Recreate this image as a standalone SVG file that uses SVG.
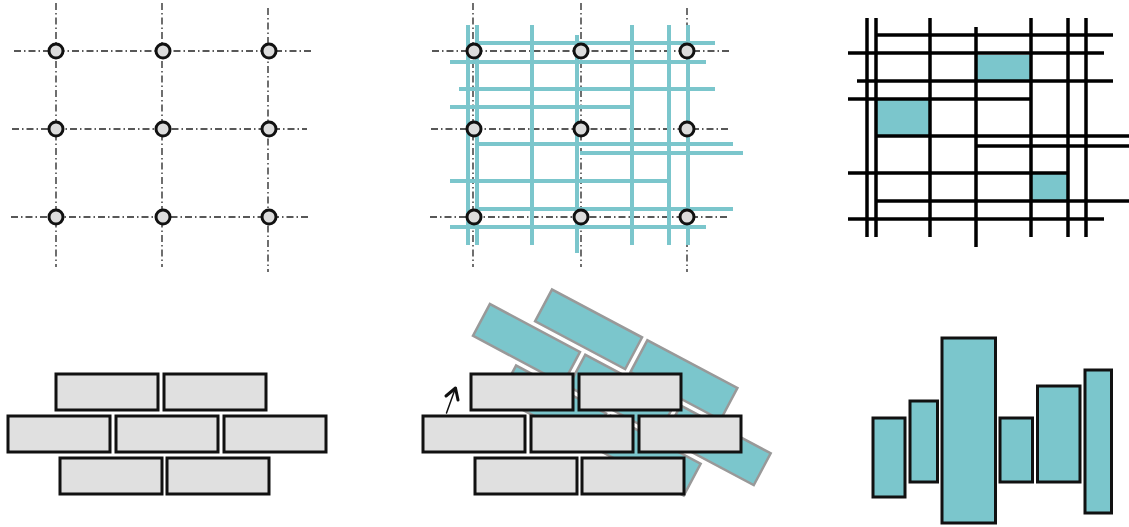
<svg xmlns="http://www.w3.org/2000/svg" width="1129" height="527" viewBox="0 0 1129 527">
<defs>
<style>
.ax{stroke:#222;stroke-width:1.3;stroke-dasharray:7 3 1.5 3;fill:none}
.col{fill:#dcdcdc;stroke:#111;stroke-width:3}
.cy{stroke:#7bc6cc;stroke-width:4;fill:none}
.bk{stroke:#000;stroke-width:3.5;fill:none}
.cf{fill:#7bc6cc;stroke:none}
.brick{fill:#e0e0e0;stroke:#111;stroke-width:3}
.rb{fill:#7bc6cc;stroke:#999;stroke-width:2.5}
.bar{fill:#7bc6cc;stroke:#111;stroke-width:3}
</style>
<g id="wall">
<rect class="brick" x="0" y="0" width="102" height="36"/>
<rect class="brick" x="108" y="0" width="102" height="36"/>
<rect class="brick" x="-48" y="42" width="102" height="36"/>
<rect class="brick" x="60" y="42" width="102" height="36"/>
<rect class="brick" x="168" y="42" width="102" height="36"/>
<rect class="brick" x="4" y="84" width="102" height="36"/>
<rect class="brick" x="111" y="84" width="102" height="36"/>
</g>
<g id="cols">
<circle class="col" cx="0" cy="0" r="7"/>
<circle class="col" cx="107" cy="0" r="7"/>
<circle class="col" cx="213" cy="0" r="7"/>
<circle class="col" cx="0" cy="78" r="7"/>
<circle class="col" cx="107" cy="78" r="7"/>
<circle class="col" cx="213" cy="78" r="7"/>
<circle class="col" cx="0" cy="166" r="7"/>
<circle class="col" cx="107" cy="166" r="7"/>
<circle class="col" cx="213" cy="166" r="7"/>
</g>
</defs>

<g id="grid-columns">
<g class="ax">
<line x1="56" y1="3" x2="56" y2="267"/>
<line x1="162" y1="3" x2="162" y2="267"/>
<line x1="268" y1="8" x2="268" y2="272"/>
<line x1="14" y1="51" x2="312" y2="51"/>
<line x1="12" y1="129" x2="307" y2="129"/>
<line x1="11" y1="217" x2="308" y2="217"/>
</g>
<use href="#cols" x="56" y="51"/>
</g>

<g id="grid-framing">
<g class="ax">
<line x1="473" y1="3" x2="473" y2="267"/>
<line x1="581" y1="3" x2="581" y2="267"/>
<line x1="687" y1="8" x2="687" y2="272"/>
<line x1="432" y1="51" x2="730" y2="51"/>
<line x1="431" y1="129" x2="728" y2="129"/>
<line x1="430" y1="217" x2="727" y2="217"/>
</g>
<g class="cy">
<line x1="468" y1="25" x2="468" y2="245"/>
<line x1="477" y1="25" x2="477" y2="245"/>
<line x1="532" y1="25" x2="532" y2="245"/>
<line x1="577" y1="35" x2="577" y2="253"/>
<line x1="632" y1="25" x2="632" y2="245"/>
<line x1="669" y1="25" x2="669" y2="245"/>
<line x1="688" y1="25" x2="688" y2="245"/>
<line x1="477" y1="43" x2="715" y2="43"/>
<line x1="450" y1="62" x2="706" y2="62"/>
<line x1="459" y1="89" x2="715" y2="89"/>
<line x1="450" y1="107" x2="632" y2="107"/>
<line x1="477" y1="144" x2="733" y2="144"/>
<line x1="580" y1="153" x2="743" y2="153"/>
<line x1="450" y1="181" x2="669" y2="181"/>
<line x1="477" y1="209" x2="733" y2="209"/>
<line x1="450" y1="227" x2="706" y2="227"/>
</g>
<use href="#cols" x="474" y="51"/>
</g>

<g id="grid-abstract">
<rect class="cf" x="977" y="55" width="53" height="26"/>
<rect class="cf" x="877" y="100" width="53" height="36"/>
<rect class="cf" x="1031" y="174" width="36" height="27"/>
<g class="bk">
<line x1="867" y1="18" x2="867" y2="237"/>
<line x1="876" y1="18" x2="876" y2="237"/>
<line x1="930" y1="18" x2="930" y2="237"/>
<line x1="976" y1="27" x2="976" y2="247"/>
<line x1="1031" y1="18" x2="1031" y2="237"/>
<line x1="1068" y1="18" x2="1068" y2="237"/>
<line x1="1086" y1="18" x2="1086" y2="237"/>
<line x1="876" y1="35" x2="1113" y2="35"/>
<line x1="848" y1="53" x2="1104" y2="53"/>
<line x1="857" y1="81" x2="1113" y2="81"/>
<line x1="848" y1="99" x2="1031" y2="99"/>
<line x1="877" y1="136" x2="1129" y2="136"/>
<line x1="976" y1="146" x2="1129" y2="146"/>
<line x1="848" y1="173" x2="1068" y2="173"/>
<line x1="876" y1="201" x2="1129" y2="201"/>
<line x1="848" y1="219" x2="1104" y2="219"/>
</g>
</g>

<g id="wall-plain">
<use href="#wall" x="56" y="374"/>
</g>

<g id="wall-rotated">
<g transform="translate(552,289.5) rotate(28)">
<rect class="rb" x="0" y="0" width="102" height="36"/>
<rect class="rb" x="108" y="0" width="102" height="36"/>
<rect class="rb" x="-48" y="42" width="102" height="36"/>
<rect class="rb" x="60" y="42" width="102" height="36"/>
<rect class="rb" x="168" y="42" width="102" height="36"/>
<rect class="rb" x="4" y="84" width="102" height="36"/>
<rect class="rb" x="111" y="84" width="102" height="36"/>
</g>
<use href="#wall" x="471" y="374"/>
<g fill="none" stroke="#111" stroke-linecap="round" stroke-linejoin="round">
<line x1="446.5" y1="413" x2="455.5" y2="388" stroke-width="1.5"/>
<polyline points="446,396 455.5,388 458,400" stroke-width="3"/>
</g>
</g>

<g id="bars">
<rect class="bar" x="873" y="418" width="32" height="79"/>
<rect class="bar" x="910" y="401" width="27.5" height="81"/>
<rect class="bar" x="942" y="338" width="53.5" height="185"/>
<rect class="bar" x="1000" y="418" width="32.5" height="64"/>
<rect class="bar" x="1037.5" y="386" width="42.5" height="96"/>
<rect class="bar" x="1085" y="370" width="26.5" height="143"/>
</g>
</svg>
